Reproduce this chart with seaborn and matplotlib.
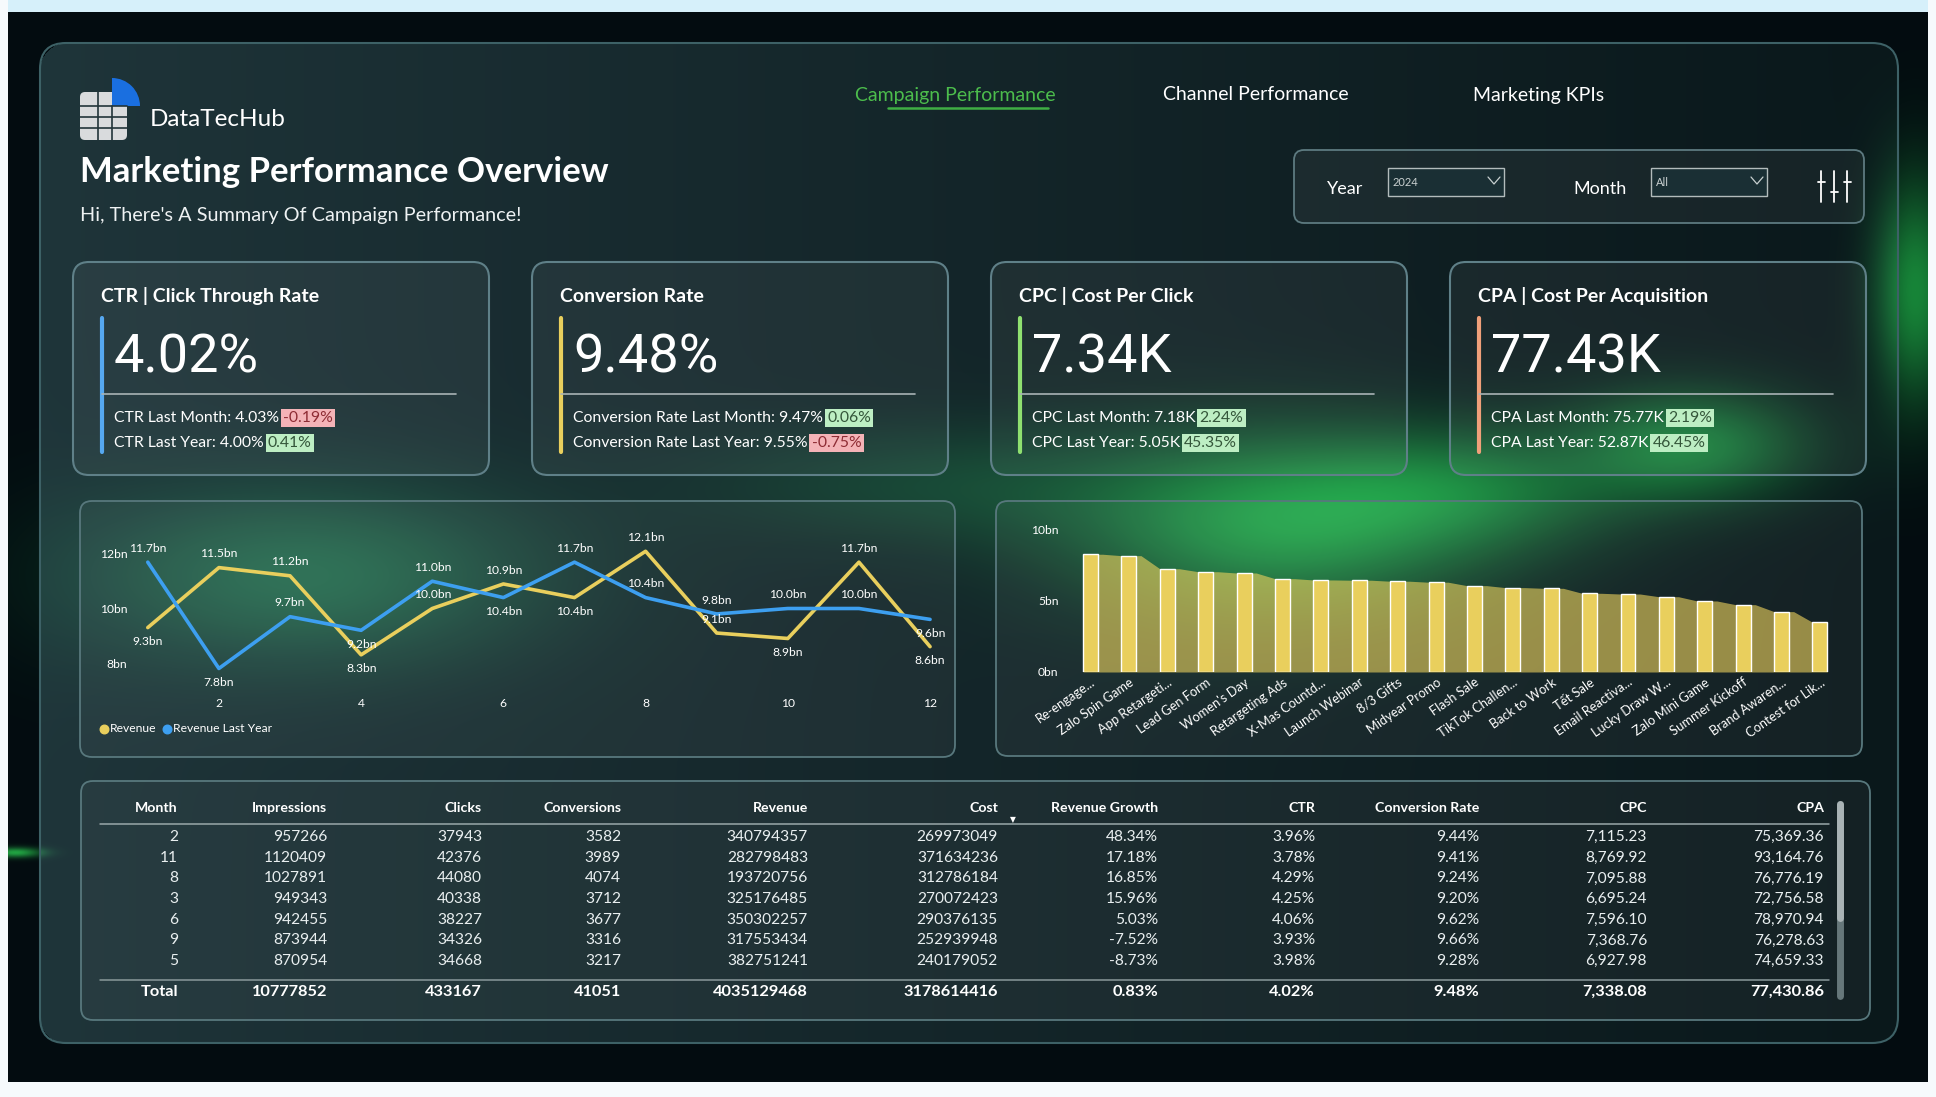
import numpy as np
import pandas as pd
import seaborn as sns
import matplotlib
matplotlib.use("Agg")
import matplotlib.pyplot as plt
from matplotlib.patches import FancyBboxPatch, Wedge

# ---- data ----
months = list(range(1, 13))
revenue = [9.3, 11.5, 11.2, 8.3, 10.0, 10.9, 10.4, 12.1, 9.1, 8.9, 11.7, 8.6]
revenue_last_year = [11.7, 7.8, 9.7, 9.2, 11.0, 10.4, 11.7, 10.4, 9.8, 10.0, 10.0, 9.6]

campaigns = ["Re-engage...", "Zalo Spin Game", "App Retargeti...", "Lead Gen Form", "Women's Day",
             "Retargeting Ads", "X-Mas Countd...", "Launch Webinar", "8/3 Gifts", "Midyear Promo",
             "Flash Sale", "TikTok Challen...", "Back to Work", "Tết Sale", "Email Reactiva...",
             "Lucky Draw W...", "Zalo Mini Game", "Summer Kickoff", "Brand Awaren...", "Contest for Lik..."]
campaign_revenue = [8.29, 8.19, 7.27, 7.06, 6.97, 6.57, 6.48, 6.46, 6.39, 6.32,
                    6.08, 5.94, 5.89, 5.54, 5.49, 5.30, 5.00, 4.74, 4.25, 3.50]

kpi_titles = ["CTR | Click Through Rate", "Conversion Rate", "CPC | Cost Per Click", "CPA | Cost Per Acquisition"]
kpi_names = ["CTR", "Conversion Rate", "CPC", "CPA"]
kpi_values = ["4.02%", "9.48%", "7.34K", "77.43K"]
kpi_last_month = ["4.03%", "9.47%", "7.18K", "75.77K"]
kpi_last_month_delta = [-0.19, 0.06, 2.24, 2.19]
kpi_last_year = ["4.00%", "9.55%", "5.05K", "52.87K"]
kpi_last_year_delta = [0.41, -0.75, 45.35, 46.45]

tbl_month = [2, 11, 8, 3, 6, 9, 5]
tbl_impressions = [957266, 1120409, 1027891, 949343, 942455, 873944, 870954]
tbl_clicks = [37943, 42376, 44080, 40338, 38227, 34326, 34668]
tbl_conversions = [3582, 3989, 4074, 3712, 3677, 3316, 3217]
tbl_revenue = [340794357, 282798483, 193720756, 325176485, 350302257, 317553434, 382751241]
tbl_cost = [269973049, 371634236, 312786184, 270072423, 290376135, 252939948, 240179052]
tbl_rev_growth = [48.34, 17.18, 16.85, 15.96, 5.03, -7.52, -8.73]
tbl_ctr = [3.96, 3.78, 4.29, 4.25, 4.06, 3.93, 3.98]
tbl_conv_rate = [9.44, 9.41, 9.24, 9.20, 9.62, 9.66, 9.28]
tbl_cpc = [7115.23, 8769.92, 7095.88, 6695.24, 7596.10, 7368.76, 6927.98]
tbl_cpa = [75369.36, 93164.76, 76776.19, 72756.58, 78970.94, 76278.63, 74659.33]
tbl_totals = [10777852, 433167, 41051, 4035129468, 3178614416, 0.83, 4.02, 9.48, 7338.08, 77430.86]
tbl_headers = ["Month", "Impressions", "Clicks", "Conversions", "Revenue", "Cost",
               "Revenue Growth", "CTR", "Conversion Rate", "CPC", "CPA"]

# label placement for the line chart (above / below the point)
rev_label_side = [-1, 1, 1, -1, 1, 1, -1, 1, 1, -1, 1, -1]
ly_label_side = [1, -1, 1, -1, 1, -1, 1, 1, 1, 1, 1, -1]

YELLOW = "#e9cf5d"
BLUE = "#3d9ff0"
W, H = 1936, 1097

# ---- background picture (gradient + green glows) ----
yy, xx = np.mgrid[0:H, 0:W].astype(float)


def blob(cx, cy, sx, sy):
    return np.exp(-(((xx - cx) / sx) ** 2 + ((yy - cy) / sy) ** 2))[..., None]


def rounded_mask(x0, y0, x1, y1, r):
    cx = np.clip(xx, x0 + r, x1 - r)
    cy = np.clip(yy, y0 + r, y1 - r)
    return ((xx - cx) ** 2 + (yy - cy) ** 2 <= r * r)


img = np.empty((H, W, 3))
img[:] = np.array([3, 12, 16]) / 255
t = np.clip((xx - 40) / 1858, 0, 1)[..., None] ** 0.9
base = np.array([31, 53, 58]) / 255 * (1 - t) + np.array([10, 24, 27]) / 255 * t
mask = rounded_mask(40, 43, 1898, 1043, 26)
img[mask] = base[mask]
img += blob(1280, 525, 200, 90) * np.array([18, 115, 35]) / 255
img += blob(1470, 490, 160, 60) * np.array([10, 70, 22]) / 255
img += blob(1690, 445, 115, 55) * np.array([14, 95, 30]) / 255
img += blob(1915, 290, 40, 110) * np.array([20, 120, 40]) / 255
img += blob(310, 575, 230, 90) * np.array([12, 60, 28]) / 255
img += blob(950, 485, 240, 60) * np.array([4, 32, 12]) / 255
img += blob(15, 852, 25, 5) * np.array([30, 150, 50]) / 255
img = np.clip(img, 0, 1)
img[:12, :] = np.array([214, 240, 250]) / 255
img[:, :8] = np.array([246, 250, 252]) / 255
img[:, 1928:] = np.array([246, 250, 252]) / 255
img[1082:, :] = np.array([246, 250, 252]) / 255

sns.set_theme(style="dark")
plt.rcParams['font.family'] = ['Lato', 'DejaVu Sans']
plt.rcParams['axes.facecolor'] = 'none'

fig = plt.figure(figsize=(W / 100, H / 100), dpi=100)
bg = fig.add_axes([0, 0, 1, 1])
bg.imshow(img, extent=(0, W, H, 0), zorder=0, aspect='auto', interpolation='bilinear')
bg.set_xlim(0, W)
bg.set_ylim(H, 0)
bg.axis('off')
renderer = fig.canvas.get_renderer()


def panel(x0, y0, x1, y1, r=14, fc=(1, 1, 1, 0.045), ec='#58787d', lw=1.3):
    bg.add_patch(FancyBboxPatch((x0, y0), x1 - x0, y1 - y0,
                                boxstyle=f"round,pad=0,rounding_size={r}",
                                fc=fc, ec=ec, lw=lw, zorder=1))


def txt(x, y, s, size, color='white', weight='normal', ha='left', va='center', **kw):
    return bg.text(x, y, s, fontsize=size, color=color, fontweight=weight,
                   ha=ha, va=va, zorder=5, **kw)


def px_axes(x0, y0, x1, y1):
    return fig.add_axes([x0 / W, 1 - y1 / H, (x1 - x0) / W, (y1 - y0) / H])


# ---- frame and header ----
panel(40, 43, 1898, 1043, r=26, fc='none', ec='#3d6166', lw=1.5)

# logo
bg.add_patch(FancyBboxPatch((80, 92), 47, 48, boxstyle="round,pad=0,rounding_size=5",
                            fc='#d9dbdd', ec='none', zorder=2))
bg.add_patch(Wedge((112, 106), 28, 270, 360, fc='#1a6fe0', ec='none', zorder=3))
for xv in [98, 112]:
    bg.plot([xv, xv], [92 if xv == 98 else 106, 140], color='#22353a', lw=1.2, zorder=3)
for yv in [106, 117, 128]:
    bg.plot([80, 127], [yv, yv], color='#22353a', lw=1.2, zorder=3)
txt(150, 119, "DataTecHub", 17.5)
txt(80, 172, "Marketing Performance Overview", 25, weight='bold')
txt(80, 216, "Hi, There's A Summary Of Campaign Performance!", 14.3, color='#eef2f3')

# navigation
txt(955, 95, "Campaign Performance", 14, color='#4cbd4c', ha='center')
bg.plot([888, 1048], [108, 108], color='#3fae44', lw=1.8, zorder=5)
txt(1256, 95, "Channel Performance", 14, ha='center')
txt(1539, 95, "Marketing KPIs", 14, ha='center')

# slicers
panel(1294, 150, 1864, 223, r=10, fc=(1, 1, 1, 0.05), ec='#5d7a80')
for lab, lx, bx0, val in [("Year", 1327, 1388, "2024"), ("Month", 1573, 1651, "All")]:
    txt(lx, 189, lab, 13)
    bg.add_patch(plt.Rectangle((bx0, 168), 116, 28, fc='#1a2f34', ec='#b3bcbc', lw=1, zorder=4))
    txt(bx0 + 5, 183, val, 8, color='#c9d0d0')
    bg.plot([bx0 + 100, bx0 + 106, bx0 + 112], [177, 184, 177], color='#c8d0d0', lw=0.9, zorder=5)
for ix, ty in [(1821, 182), (1834, 192), (1847, 182)]:
    bg.plot([ix, ix], [171, 202], color='white', lw=1.3, zorder=5)
    bg.plot([ix - 3.5, ix + 3.5], [ty, ty], color='white', lw=1.3, zorder=5)

# ---- KPI cards ----
card_x = [73, 532, 991, 1450]
accents = ['#56a8f0', YELLOW, '#8fe070', '#f0a07a']
for i, x0 in enumerate(card_x):
    panel(x0, 262, x0 + 416, 475, r=16, fc=(1, 1, 1, 0.05), ec='#5f8088', lw=1.5)
    txt(x0 + 28, 296, kpi_titles[i], 14, weight='bold')
    bg.plot([x0 + 29, x0 + 29], [318, 452], color=accents[i], lw=3, solid_capstyle='round', zorder=5)
    txt(x0 + 41, 358, kpi_values[i], 39, family=['Roboto', 'DejaVu Sans'])
    bg.plot([x0 + 29, x0 + 383], [394, 394], color='#a9b3b5', lw=1.2, zorder=5)
    rows = [(418, "Last Month", kpi_last_month[i], kpi_last_month_delta[i]),
            (443, "Last Year", kpi_last_year[i], kpi_last_year_delta[i])]
    for y, per, val, d in rows:
        tt = txt(x0 + 41, y, f"{kpi_names[i]} {per}: {val}", 11.3)
        bb = tt.get_window_extent(renderer)
        good = d >= 0
        txt(bb.x1 + 4, y, f"{d:.2f}%", 11.3,
            color='#34563a' if good else '#8e2c34',
            bbox=dict(boxstyle='square,pad=0.14', fc='#bdeec3' if good else '#f4b3b7', ec='none'))

# ---- line chart ----
panel(80, 501, 955, 757, r=12)
axl = px_axes(130, 530, 945, 690)
df_line = pd.DataFrame({'Month': months * 2,
                        'Revenue': revenue + revenue_last_year,
                        'Series': ['Revenue'] * 12 + ['Revenue Last Year'] * 12})
sns.lineplot(data=df_line, x='Month', y='Revenue', hue='Series', palette=[YELLOW, BLUE],
             linewidth=2.6, legend=False, ax=axl)
for m, v, s in zip(months, revenue, rev_label_side):
    axl.annotate(f"{v:.1f}bn", (m, v), xytext=(0, 10 * s), textcoords='offset points',
                 ha='center', va='center', fontsize=8.7, color='white')
for m, v, s in zip(months, revenue_last_year, ly_label_side):
    axl.annotate(f"{v:.1f}bn", (m, v), xytext=(0, 10 * s), textcoords='offset points',
                 ha='center', va='center', fontsize=8.7, color='white')
axl.set_xlim(0.75, 12.21)
axl.set_ylim(7.01, 12.88)
axl.set_xticks([2, 4, 6, 8, 10, 12])
axl.set_yticks([8, 10, 12])
axl.set_yticklabels(["8bn", "10bn", "12bn"])
axl.tick_params(colors='white', labelsize=8.7, length=0)
axl.tick_params(axis='x', pad=6)
axl.tick_params(axis='y', pad=2)
axl.set_xlabel("")
axl.set_ylabel("")
for sp in axl.spines.values():
    sp.set_visible(False)
axl.grid(False)
bg.scatter([104], [729], s=38, color=YELLOW, zorder=6)
txt(110, 729, "Revenue", 8.7)
bg.scatter([167], [729], s=38, color=BLUE, zorder=6)
txt(173, 729, "Revenue Last Year", 8.7)

# ---- campaign bar chart ----
panel(996, 501, 1862, 756, r=12)
axb = px_axes(1064, 520, 1848, 672)
bw = 0.39
area_x, area_y = [], []
for i, v in enumerate(campaign_revenue):
    area_x += [i - bw / 2, i + bw / 2 + 0.12]
    area_y += [v, v]
area_x[-1] = len(campaign_revenue) - 1 + bw / 2
axb.fill_between(area_x, area_y, 0, color=YELLOW, alpha=0.62, lw=0, zorder=1)
sns.barplot(x=campaigns, y=campaign_revenue, color=YELLOW, width=bw, saturation=1,
            ax=axb, zorder=2)
axb.set_xlim(-0.69, 19.73)
axb.set_ylim(0, 10.7)
axb.set_yticks([0, 5, 10])
axb.set_yticklabels(["0bn", "5bn", "10bn"])
axb.tick_params(colors='white', labelsize=8.7, length=0)
axb.tick_params(axis='y', pad=4)
axb.tick_params(axis='x', pad=3)
for lab in axb.get_xticklabels():
    lab.set_rotation(35)
    lab.set_ha('right')
    lab.set_rotation_mode('anchor')
    lab.set_fontsize(9.3)
    lab.set_family(['Lato', 'DejaVu Sans'])
axb.set_xlabel("")
axb.set_ylabel("")
for sp in axb.spines.values():
    sp.set_visible(False)
axb.grid(False)

# ---- table ----
panel(81, 781, 1870, 1020, r=12)
col_right = [178, 327, 482, 621, 808, 998, 1158, 1315, 1479, 1647, 1824]
for xr, h in zip(col_right, tbl_headers):
    txt(xr, 808, h, 10.2, weight='bold', ha='right')
txt(1013, 820, "▼", 5.5, ha='center', family=['DejaVu Sans'])
bg.plot([100, 1829], [824, 824], color='#9aa8aa', lw=1.1, zorder=5)
for r in range(len(tbl_month)):
    y = 837 + r * 20.7
    cells = [str(tbl_month[r]), str(tbl_impressions[r]), str(tbl_clicks[r]), str(tbl_conversions[r]),
             str(tbl_revenue[r]), str(tbl_cost[r]), f"{tbl_rev_growth[r]:.2f}%", f"{tbl_ctr[r]:.2f}%",
             f"{tbl_conv_rate[r]:.2f}%", f"{tbl_cpc[r]:,.2f}", f"{tbl_cpa[r]:,.2f}"]
    for xr, c in zip(col_right, cells):
        txt(xr, y, c, 11.2, color='#e9eff0', ha='right')
bg.plot([100, 1829], [980, 980], color='#8a999b', lw=1.1, zorder=5)
tot = ["Total"] + [str(v) for v in tbl_totals[:5]] + [f"{v:.2f}%" for v in tbl_totals[5:8]] + \
      [f"{v:,.2f}" for v in tbl_totals[8:]]
for xr, c in zip(col_right, tot):
    txt(xr, 992, c, 11.8, weight='bold', ha='right')
bg.plot([1840, 1840], [804, 996], color='#66777a', lw=5, solid_capstyle='round', zorder=5)
bg.plot([1840, 1840], [804, 918], color='#a9b3b5', lw=5, solid_capstyle='round', zorder=6)

fig.savefig("out.png", dpi=100)
